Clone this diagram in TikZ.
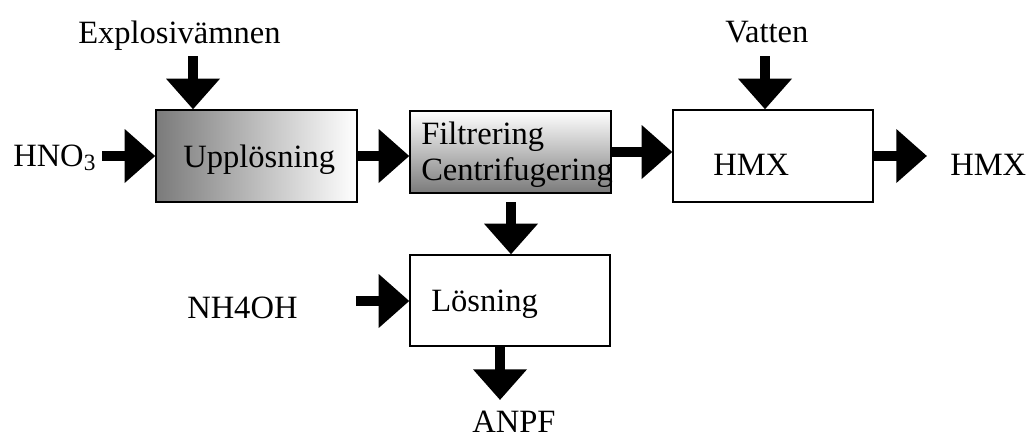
\documentclass[tikz,border=0pt]{standalone}
\usepackage{fontspec}
\setmainfont{Liberation Serif}
\usetikzlibrary{arrows.meta,calc}
\begin{document}
\begin{tikzpicture}[x=0.75pt,y=-0.75pt,
  txt/.style={anchor=base west,inner sep=0pt,font=\fontsize{24.4}{27}\selectfont},
  box/.style={draw=black,line width=1pt,inner sep=0pt},
  flow/.style={line width=8pt,-{Triangle[width=39pt,length=23pt]}}]
\useasboundingbox (0,0) rectangle (1027,439);
% boxes
\node[box,minimum width=150.75pt,minimum height=69pt,left color=black!52,right color=white] (upp) at (256.5,156) {};
\node[box,minimum width=150.75pt,minimum height=61.5pt,top color=white,bottom color=black!52] (filt) at (510.5,152) {};
\node[box,minimum width=150pt,minimum height=69pt,fill=white] (hmx) at (773,156) {};
\node[box,minimum width=150pt,minimum height=68.25pt,fill=white] (los) at (510,300.5) {};
% texts
\node[txt] (upptxt) at (183,167) {Upplösning};
\node[txt] (filttxt) at (421,144) {Filtrering};
\node[txt] (centtxt) at (421,180) {Centrifugering};
\node[txt] (hmxtxt) at (713,175) {HMX};
\node[txt] (lostxt) at (431,311) {Lösning};
\node[txt] (expl) at (78,43) {Explosivämnen};
\node[txt] (vat) at (725,42) {Vatten};
\node[txt] (hno) at (13,166) {HNO\raisebox{-3pt}{\fontsize{17.5}{17.5}\selectfont 3}};
\node[txt] (hmxout) at (950,175) {HMX};
\node[txt] (nh) at (187,318) {NH4OH};
\node[txt] (anpf) at (472,432) {ANPF};
% connector ends
\coordinate (explTail) at (193,56);
\coordinate (vatTail) at (765,56);
\coordinate (hnoTail) at (102,156);
\coordinate (hmxTip) at (927,156);
\coordinate (filtTail) at (511,202);
\coordinate (nhTail) at (356,301);
\coordinate (losTail) at ($(los.south)+(-10,0)$);
\coordinate (anpfTip) at (500,400);
% connectors
\draw[flow] (explTail) -- (explTail |- upp.north);
\draw[flow] (hnoTail) -- (upp.west);
\draw[flow] (upp.east) -- (upp.east -| filt.west);
\draw[flow] (filt.east) -- (filt.east -| hmx.west);
\draw[flow] (vatTail) -- (vatTail |- hmx.north);
\draw[flow] (hmx.east) -- (hmxTip);
\draw[flow] (filtTail) -- (filtTail |- los.north);
\draw[flow] (nhTail) -- (nhTail -| los.west);
\draw[flow] (losTail) -- (anpfTip);
\end{tikzpicture}
\end{document}
